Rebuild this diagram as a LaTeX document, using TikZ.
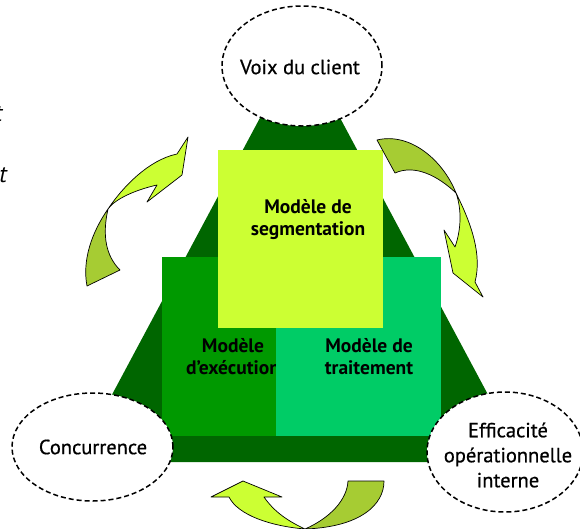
\documentclass[tikz,border=0pt]{standalone}
\usepackage{fontspec}
\setmainfont{PT Sans}
\newfontfamily\bubblefont[FakeBold=0.6]{PT Sans}
\usetikzlibrary{shapes.geometric}
\definecolor{pyramidGreen}{HTML}{006600}
\definecolor{execGreen}{HTML}{009900}
\definecolor{treatGreen}{HTML}{00CC66}
\definecolor{segLime}{HTML}{CCFF33}
\definecolor{backOlive}{HTML}{A6CC33}
\begin{document}
\begin{tikzpicture}[x=1pt,y=-1pt,
  block/.style={rectangle, draw=none, inner sep=0pt, outer sep=0pt, anchor=north west},
  bubble/.style={ellipse, draw, fill=white, dash pattern=on 5pt off 3pt,
                 line width=1.5pt, inner sep=0pt},
  bubbletext/.style={font=\bubblefont\fontsize{20.5}{25}\selectfont, align=center, inner sep=0pt},
  modeltext/.style={font=\bfseries\fontsize{19.5}{22}\selectfont, align=center, inner sep=0pt},
  ribbonfront/.style={fill=segLime, draw=black, line width=0.7pt, line join=round},
  ribbonback/.style={fill=backOlive, draw=black, line width=0.7pt, line join=round},
  margintext/.style={font=\itshape\fontsize{24}{24}\selectfont, inner sep=0pt, anchor=base east}]

\useasboundingbox (0,0) rectangle (580,528);
\clip (0,0) rectangle (580,528);

% clipped caption letters at the left margin
\node[margintext] (capA) at (2.5,121) {t};
\node[margintext] (capB) at (7,182) {t};

% the pyramid
\fill[pyramidGreen] (300,43) -- (524,462) -- (76,462) -- cycle;

% execution model (its label runs under the next block)
\node[block, fill=execGreen, minimum width=114pt, minimum height=179pt] (exec) at (162,257) {};
\node[modeltext] (execT) at (233,357) {Modèle\\d’exécution};

% treatment model
\node[block, fill=treatGreen, minimum width=165pt, minimum height=179pt] (treat) at (276,257) {};
\node[modeltext] (treatT) at (369,357) {Modèle de\\traitement};

% segmentation model
\node[block, fill=segLime, minimum width=165pt, minimum height=178pt] (seg) at (218,150) {};
\node[modeltext] (segT) at (308,220) {Modèle de\\segmentation};

% the three forces
\node[bubble, minimum width=160pt, minimum height=120pt] (voice) at (302,66) {};
\node[bubbletext] (voiceT) at (300,67) {Voix du client};

\node[bubble, minimum width=161pt, minimum height=108pt] (compet) at (92.5,447) {};
\node[bubbletext] (competT) at (93,447) {Concurrence};

\node[bubble, minimum width=156pt, minimum height=120pt] (effic) at (505,452) {};
\node[bubbletext] (efficT) at (508,455) {Efficacité\\opérationnelle\\interne};

% left ribbon arrow (rising towards the client)
\draw[ribbonback] (108,209) .. controls (92,232) and (82,260) .. (87,286)
  -- (120,270) .. controls (106,256) and (102,236) .. (108,209) -- cycle;
\draw[ribbonfront] (108,209) .. controls (122,188) and (148,160) .. (177,154)
  -- (188,137) -- (182,175) -- (147,202) -- (157,185)
  .. controls (135,190) and (115,199) .. (108,209) -- cycle;

% right ribbon arrow (descending towards efficiency)
\draw[ribbonback] (395,173) -- (377,140) .. controls (410,132) and (443,160) .. (456,193)
  .. controls (438,176) and (415,164) .. (395,173) -- cycle;
\draw[ribbonfront] (456,193) .. controls (472,225) and (482,255) .. (475,282)
  -- (483,297) -- (453,273) -- (444,230) -- (455,247)
  .. controls (461,230) and (462,210) .. (456,193) -- cycle;

% bottom ribbon arrow (towards competition)
\draw[ribbonback] (348,481) -- (384,481) .. controls (384,505) and (360,527) .. (305,529)
  .. controls (330,518) and (347,500) .. (348,481) -- cycle;
\draw[ribbonfront] (305,529) .. controls (270,526) and (238,515) .. (229,497)
  -- (211,497) -- (243,481) -- (282,497) -- (264,497)
  .. controls (275,513) and (290,522) .. (305,529) -- cycle;

\end{tikzpicture}
\end{document}
